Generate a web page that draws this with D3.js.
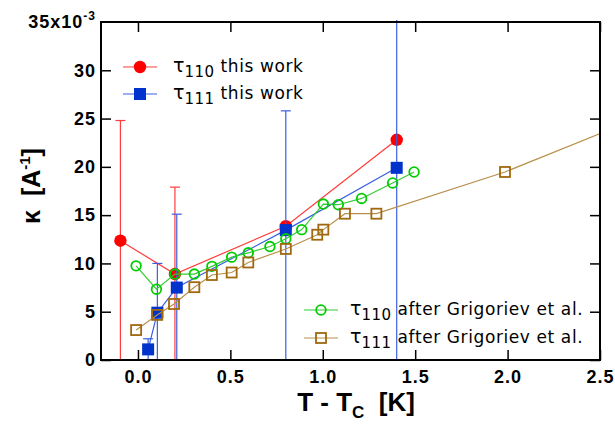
<html>
<head>
<title>kappa vs T - Tc</title>
<script src="https://cdn.jsdelivr.net/npm/d3@7/dist/d3.min.js"></script>
<style>
    body { margin: 0; background: #fff; }
    .axis path { display: none; }
    .axis line { stroke: #000; stroke-width: 1.5; }
    .legend text { font-family: "DejaVu Sans", sans-serif; font-size: 17px; }
</style>
</head>
<body>
<script>
// tau110, this work
var redX = [-0.095, 0.2, 0.8, 1.4];
var redY = [12.35, 8.9, 13.85, 22.8];
var redHi = [24.8, 17.9, null, null];
var redLo = [0, 0, null, null];

// tau111, this work
var blueX = [0.055, 0.105, 0.21, 0.8, 1.4];
var blueY = [1.1, 4.9, 7.5, 13.45, 19.9];
var blueHi = [2.2, 10.0, 15.1, 25.8, 40];
var blueLo = [0, 0, 0, 0, 0];

// tau110 after Grigoriev et al.
var greenX = [-0.01, 0.1, 0.2, 0.305, 0.4, 0.507, 0.597, 0.714, 0.8, 0.886, 1.003, 1.084, 1.21, 1.378, 1.494];
var greenY = [9.75, 7.33, 8.9, 8.9, 9.7, 10.65, 11.1, 11.75, 12.55, 13.5, 16.15, 16.08, 16.73, 18.33, 19.47];

// tau111 after Grigoriev et al. (last point lies outside the plotted range)
var brownX = [-0.01, 0.104, 0.195, 0.305, 0.4, 0.507, 0.597, 0.8, 0.97, 1.003, 1.12, 1.29, 1.986, 3.0];
var brownY = [3.1, 4.67, 5.8, 7.54, 8.8, 9.06, 10.1, 11.5, 12.97, 13.5, 15.15, 15.15, 19.47, 27.3];

var xTicks = [0, 0.5, 1.0, 1.5, 2.0, 2.5];
var yTicks = [0, 5, 10, 15, 20, 25, 30];

var w = 615, h = 426;
var pLeft = 101, pRight = 600, pTop = 22, pBottom = 360;
var boldFont = "'Liberation Sans', Arial, sans-serif";

var x = d3.scaleLinear().domain([-0.2, 2.5]).range([pLeft, pRight]);
var y = d3.scaleLinear().domain([0, 35]).range([pBottom, pTop]);

var svg = d3.select("body").append("svg")
    .attr("width", w)
    .attr("height", h);

svg.append("defs").append("clipPath").attr("id", "plot")
    .append("rect")
    .attr("x", pLeft).attr("y", pTop - 2)
    .attr("width", pRight - pLeft).attr("height", pBottom - pTop + 3);

function zip(xs, ys) {
    return xs.map(function(d, i) { return [d, ys[i]]; });
}

var line = d3.line()
    .x(function(d) { return x(d[0]); })
    .y(function(d) { return y(d[1]); });

var plot = svg.append("g").attr("clip-path", "url(#plot)");

var series = [
    { xs: redX, ys: redY, hi: redHi, lo: redLo, line: "#ff3b3b", mark: "#ff0000", shape: "dot" },
    { xs: blueX, ys: blueY, hi: blueHi, lo: blueLo, line: "#3b5fe0", mark: "#0033cc", shape: "box" },
    { xs: greenX, ys: greenY, line: "#33cc33", mark: "#00cc00", shape: "ring" },
    { xs: brownX, ys: brownY, line: "#b8904c", mark: "#a0680f", shape: "frame" }
];

function marker(g, s, cx, cy) {
    if (s.shape == "dot") {
        g.append("circle").attr("cx", cx).attr("cy", cy).attr("r", 6.2).attr("fill", s.mark);
    } else if (s.shape == "box") {
        g.append("rect").attr("x", cx - 6).attr("y", cy - 6).attr("width", 12).attr("height", 12).attr("fill", s.mark);
    } else if (s.shape == "ring") {
        g.append("circle").attr("cx", cx).attr("cy", cy).attr("r", 4.8)
            .attr("fill", "none").attr("stroke", s.mark).attr("stroke-width", 1.8);
    } else {
        g.append("rect").attr("x", cx - 5).attr("y", cy - 5).attr("width", 10).attr("height", 10)
            .attr("fill", "none").attr("stroke", s.mark).attr("stroke-width", 1.8);
    }
}

series.forEach(function(s) {
    var pts = zip(s.xs, s.ys);
    plot.append("path")
        .datum(pts)
        .attr("d", line)
        .attr("fill", "none")
        .attr("stroke", s.line)
        .attr("stroke-width", 1.2);

    if (s.hi) {
        var eb = plot.append("g").attr("stroke", s.line).attr("stroke-width", 1.2);
        s.xs.forEach(function(v, i) {
            if (s.hi[i] == null) return;
            var cx = x(v);
            eb.append("line")
                .attr("x1", cx).attr("x2", cx)
                .attr("y1", y(s.lo[i])).attr("y2", y(s.hi[i]));
            [s.lo[i], s.hi[i]].forEach(function(e) {
                eb.append("line")
                    .attr("x1", cx - 5).attr("x2", cx + 5)
                    .attr("y1", y(e)).attr("y2", y(e));
            });
        });
    }

    var g = plot.append("g");
    pts.forEach(function(d) {
        marker(g, s, x(d[0]), y(d[1]));
    });
});

// axes, ticks pointing inwards on all four sides
var axes = [
    svg.append("g").attr("class", "axis")
        .attr("transform", "translate(0," + pBottom + ")")
        .call(d3.axisBottom(x).tickValues(xTicks).tickFormat(d3.format(".1f")).tickSize(-10).tickPadding(10)),
    svg.append("g").attr("class", "axis")
        .attr("transform", "translate(0," + pTop + ")")
        .call(d3.axisTop(x).tickValues(xTicks).tickFormat("").tickSize(-10)),
    svg.append("g").attr("class", "axis")
        .attr("transform", "translate(" + pLeft + ",0)")
        .call(d3.axisLeft(y).tickValues(yTicks).tickSize(-10).tickPadding(5)),
    svg.append("g").attr("class", "axis")
        .attr("transform", "translate(" + pRight + ",0)")
        .call(d3.axisRight(y).tickValues(yTicks).tickFormat("").tickSize(-10))
];
axes.forEach(function(a) {
    a.attr("font-size", 18).attr("font-family", boldFont);
    a.selectAll("text")
        .attr("font-weight", "bold")
        .attr("letter-spacing", "1")
        .attr("fill", "#000");
});

svg.append("rect")
    .attr("x", pLeft).attr("y", pTop)
    .attr("width", pRight - pLeft).attr("height", pBottom - pTop)
    .attr("fill", "none").attr("stroke", "#000").attr("stroke-width", 2);

// 35x10^-3 label at the top of the y axis
var t35 = svg.append("text")
    .attr("x", 96).attr("y", y(35) + 6)
    .attr("text-anchor", "end")
    .attr("font-family", boldFont)
    .attr("font-size", 18).attr("font-weight", "bold")
    .attr("letter-spacing", "1");
t35.append("tspan").text("35x10");
t35.append("tspan").attr("dy", -8).attr("font-size", 12).text("-3");

// axis titles
var yl = svg.append("text")
    .attr("transform", "translate(40,186) rotate(-90)")
    .attr("text-anchor", "middle")
    .attr("font-family", boldFont)
    .attr("font-size", 25).attr("font-weight", "bold");
yl.append("tspan").text("\u03ba\u00a0\u00a0[A");
yl.append("tspan").attr("dy", -10).attr("font-size", 15).text("-1");
yl.append("tspan").attr("dy", 10).text("]");

var xl = svg.append("text")
    .attr("x", 356).attr("y", 411)
    .attr("text-anchor", "middle")
    .attr("font-family", boldFont)
    .attr("font-size", 26).attr("font-weight", "bold");
xl.append("tspan").text("T - T");
xl.append("tspan").attr("dy", 7).attr("font-size", 17).text("C");
xl.append("tspan").attr("dy", -7).text("\u00a0\u00a0[K]");

// legends
var legend = [
    { s: series[0], lx: 140, ly: 67, sub: "110", txt: " this work" },
    { s: series[1], lx: 140, ly: 94, sub: "111", txt: " this work" },
    { s: series[2], lx: 321, ly: 310, sub: "110", txt: " after Grigoriev et al." },
    { s: series[3], lx: 321, ly: 338, sub: "111", txt: " after Grigoriev et al." }
];

legend.forEach(function(l, i) {
    var g = svg.append("g").attr("class", "legend");
    g.append("line")
        .attr("x1", l.lx - 17).attr("x2", l.lx + 17)
        .attr("y1", l.ly).attr("y2", l.ly)
        .attr("stroke", l.s.line).attr("stroke-width", 1.2);
    marker(g, l.s, l.lx, l.ly);
    var t = g.append("text").attr("x", l.lx + (i < 2 ? 33 : 29)).attr("y", l.ly + 5);
    t.append("tspan").style("font-size", "19px").text("\u03c4");
    t.append("tspan").attr("dy", 5).style("font-size", "15px").style("letter-spacing", "0.5px").text(l.sub);
    t.append("tspan").attr("dy", -5).style("letter-spacing", "0.6px").text(l.txt);
});
</script>
</body>
</html>
